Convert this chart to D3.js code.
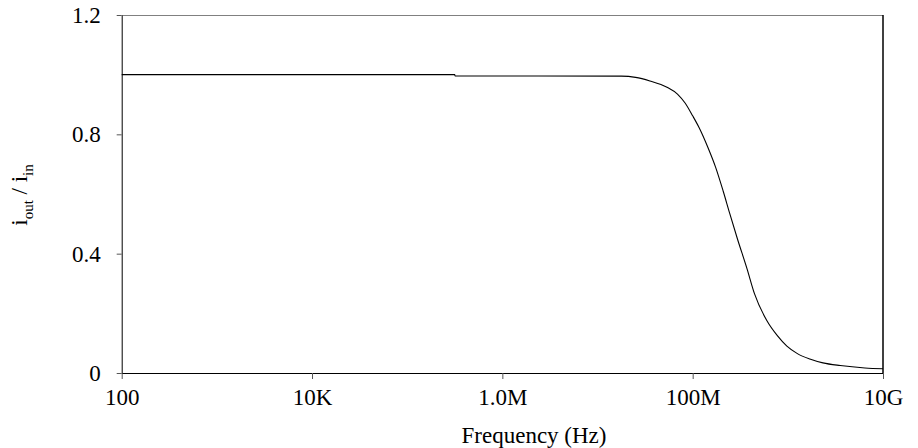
<!DOCTYPE html>
<html>
<head>
<meta charset="UTF-8">
<title>Current gain vs frequency</title>
<script src="https://cdn.jsdelivr.net/npm/d3@7"></script>
<style>
  body { margin: 0; background: #fff; }
  svg text { font-family: "Liberation Serif", "Times New Roman", serif; fill: #000; }
</style>
</head>
<body>
<div id="chart"></div>
<script>
// data
const freqs = [100, 3.16e5, 3.18e5, 1.78e7, 2.51e7, 3.55e7, 5.37e7, 6.92e7, 8.32e7,
  1.0e8, 1.17e8, 1.45e8, 1.74e8, 2.09e8, 2.45e8, 2.95e8, 3.72e8, 4.47e8,
  6.03e8, 7.76e8, 9.77e8, 1.26e9, 1.70e9, 2.34e9, 3.55e9, 6.46e9, 1e10];
const gain = [1.0, 1.0, 0.996, 0.995, 0.991, 0.979, 0.958, 0.935, 0.905,
  0.862, 0.822, 0.755, 0.69, 0.61, 0.535, 0.45, 0.35, 0.265,
  0.175, 0.125, 0.09, 0.065, 0.047, 0.034, 0.025, 0.017, 0.0144];
const xTicks = [1e2, 1e4, 1e6, 1e8, 1e10];
const xTickLabels = ["100", "10K", "1.0M", "100M", "10G"];
const yTicks = [0, 0.4, 0.8, 1.2];

const W = 918, H = 448;
const margin = {top: 15, right: 35, bottom: 75, left: 121.7};
const width = W - margin.left - margin.right,
      height = H - margin.top - margin.bottom;
const FONT = "Liberation Serif";

const svg = d3.select("#chart").append("svg")
    .attr("width", W)
    .attr("height", H);
const g = svg.append("g")
    .attr("transform", `translate(${margin.left},${margin.top})`);

const x = d3.scaleLog().domain([100, 1e10]).range([0, width]);
const y = d3.scaleLinear().domain([0, 1.2]).range([height, 0]);

// frame: top grey, right dark
g.append("line")
    .attr("x1", 0).attr("x2", width).attr("y1", 0.5).attr("y2", 0.5)
    .attr("stroke", "#808080");
g.append("line")
    .attr("x1", width).attr("x2", width).attr("y1", 0).attr("y2", height)
    .attr("stroke", "#000").attr("stroke-width", 1.5);

// x axis
const xAxis = g.append("g")
    .attr("transform", `translate(0,${height})`)
    .call(d3.axisBottom(x).tickValues(xTicks)
      .tickFormat((d, i) => xTickLabels[i]).tickSize(6).tickPadding(10).tickSizeOuter(0))
    .attr("font-family", FONT)
    .attr("font-size", 23);
xAxis.select(".domain").attr("stroke", "#000");
xAxis.selectAll("line").attr("stroke", "#555");

// y axis
const yAxis = g.append("g")
    .call(d3.axisLeft(y).tickValues(yTicks)
      .tickFormat(d => d === 0 ? "0" : d3.format(".1f")(d)).tickSize(5).tickPadding(16).tickSizeOuter(0))
    .attr("font-family", FONT)
    .attr("font-size", 23);
yAxis.select(".domain").attr("stroke", "#000");
yAxis.selectAll("line").attr("stroke", "#555");

// curve
g.append("path")
    .datum(freqs.map((f, i) => [f, gain[i]]))
    .attr("fill", "none")
    .attr("stroke", "#000")
    .attr("stroke-width", 1.1)
    .attr("d", d3.line()
      .x(d => x(d[0]))
      .y(d => y(d[1]))
      .curve(d3.curveMonotoneX));

// axis titles
svg.append("text")
    .attr("x", 534).attr("y", 443)
    .attr("text-anchor", "middle")
    .attr("font-family", FONT)
    .style("font-size", "23px")
    .text("Frequency (Hz)");

const yl = svg.append("text")
    .attr("transform", "translate(27,195) rotate(-90)")
    .attr("text-anchor", "middle")
    .attr("font-family", FONT)
    .style("font-size", "23px");
yl.append("tspan").text("i");
yl.append("tspan").attr("dy", 6).style("font-size", "15px").text("out");
yl.append("tspan").attr("dy", -6).text(" / i");
yl.append("tspan").attr("dy", 6).style("font-size", "15px").text("in");
</script>
</body>
</html>
